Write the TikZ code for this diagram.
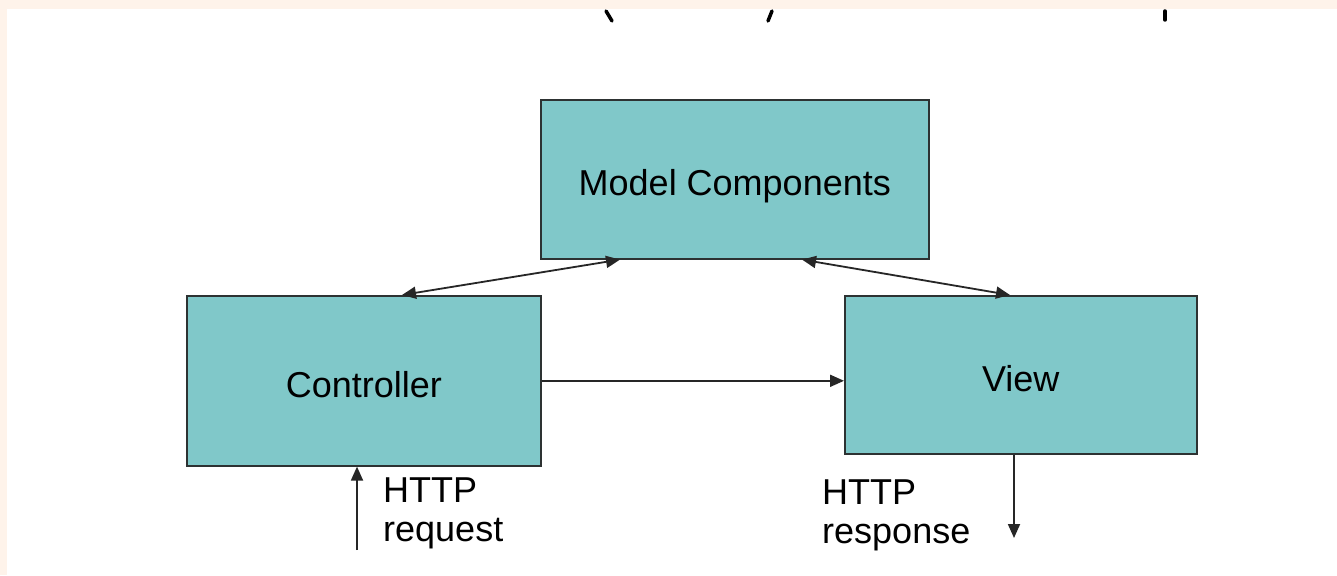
\documentclass[tikz,border=0pt]{standalone}
\usepackage{fontspec}
\setmainfont{Liberation Sans}
\usepackage{xcolor}
\usetikzlibrary{arrows.meta,positioning,calc}

\definecolor{boxteal}{RGB}{128,200,201}
\definecolor{boxedge}{RGB}{45,50,50}
\definecolor{pagepeach}{RGB}{254,243,234}

\begin{document}
\begin{tikzpicture}[
    x=1pt, y=-1pt,
    >={Triangle[length=14pt,width=12pt]},
    font=\fontsize{36}{39}\selectfont,
    comp/.style={draw=boxedge, line width=1.6pt, fill=boxteal,
                 inner sep=0pt, anchor=north west,
                 text height=41pt, text depth=8pt},
    link/.style={line width=1.8pt, black!85},
    lbl/.style={inner sep=0pt, align=left, anchor=base west},
    cut/.style={line width=3.5pt, line cap=round}
  ]
  \useasboundingbox (0,0) rectangle (1337,575);

  % --- page background with slide border ---
  \fill[white] (0,0) rectangle (1337,575);
  \fill[pagepeach] (0,0) rectangle (1337,9);
  \fill[pagepeach] (0,0) rectangle (7,575);

  % remains of the cut-off title
  \draw[cut] (606,11) -- (612,21);
  \draw[cut] (772,11) -- (768,21);
  \draw[cut] (1165,11) -- (1165,20);

  % --- components ---
  \node[comp, minimum width=388pt, minimum height=159pt] (model) at (540,99)
       {Model Components};
  \node[comp, minimum width=354pt, minimum height=170pt] (ctrl) at (186,295)
       {Controller};
  \node[comp, minimum width=352pt, minimum height=158pt] (view) at (844,295)
       {View};

  % --- model access ---
  \draw[link, <->] ([xshift=216pt]ctrl.north west) -- ([xshift=80pt]model.south west);
  \draw[link, <->] ([xshift=262pt]model.south west) -- ([xshift=166pt]view.north west);

  % controller forwards to view
  \draw[link, ->] (ctrl.east) -- (ctrl.east -| view.west);

  % --- HTTP in / out ---
  \coordinate (reqin) at (357,550);
  \coordinate (respout) at (1014,538);
  \draw[link, ->] (reqin) -- (reqin |- ctrl.south);
  \draw[link, ->] (respout |- view.south) -- (respout);

  \node[lbl] (reqlbl) at (383,541) {HTTP\\request};
  \node[lbl] (resplbl) at (822,543) {HTTP\\response};

\end{tikzpicture}
\end{document}
